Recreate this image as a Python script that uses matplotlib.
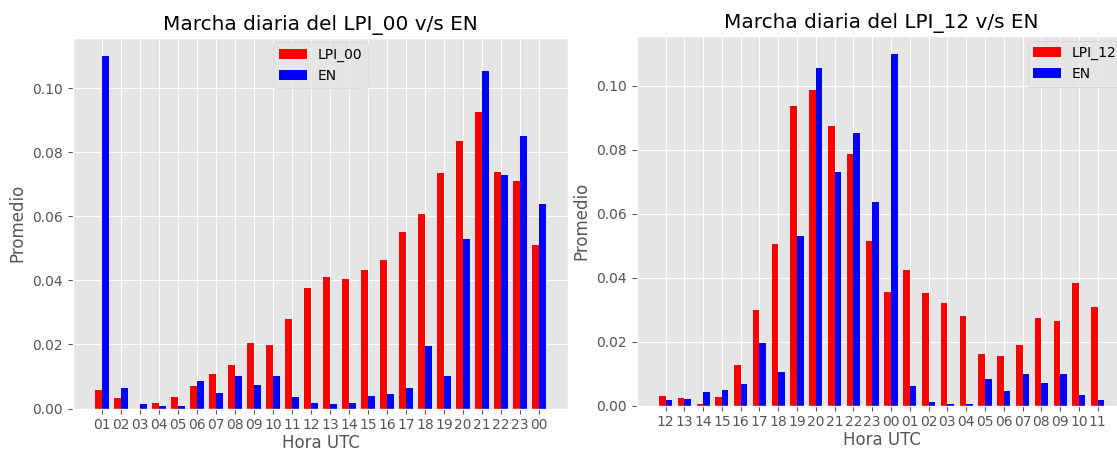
import matplotlib
matplotlib.use("Agg")
import matplotlib.pyplot as plt
import numpy as np

plt.style.use("ggplot")

# Left chart data
horas_00 = ["01", "02", "03", "04", "05", "06", "07", "08", "09", "10", "11", "12",
            "13", "14", "15", "16", "17", "18", "19", "20", "21", "22", "23", "00"]
lpi_00 = [0.0058, 0.0032, 0.0000, 0.0017, 0.0036, 0.0071, 0.0109, 0.0136, 0.0205, 0.0197,
          0.0279, 0.0377, 0.0411, 0.0405, 0.0433, 0.0465, 0.0550, 0.0609, 0.0734, 0.0836,
          0.0925, 0.0740, 0.0711, 0.0511]
en_00 = [0.1102, 0.0064, 0.0015, 0.0007, 0.0007, 0.0086, 0.0049, 0.0101, 0.0074, 0.0101,
         0.0036, 0.0017, 0.0014, 0.0018, 0.0040, 0.0046, 0.0064, 0.0194, 0.0102, 0.0528,
         0.1055, 0.0730, 0.0852, 0.0638]

# Right chart data
horas_12 = ["12", "13", "14", "15", "16", "17", "18", "19", "20", "21", "22", "23",
            "00", "01", "02", "03", "04", "05", "06", "07", "08", "09", "10", "11"]
lpi_12 = [0.0030, 0.0023, 0.0005, 0.0026, 0.0127, 0.0298, 0.0504, 0.0938, 0.0988, 0.0873,
          0.0786, 0.0515, 0.0355, 0.0425, 0.0352, 0.0321, 0.0281, 0.0163, 0.0155, 0.0191,
          0.0275, 0.0265, 0.0383, 0.0308]
en_12 = [0.0018, 0.0020, 0.0042, 0.0048, 0.0067, 0.0195, 0.0104, 0.0529, 0.1056, 0.0731,
         0.0852, 0.0636, 0.1099, 0.0061, 0.0011, 0.0005, 0.0005, 0.0083, 0.0046, 0.0099,
         0.0071, 0.0099, 0.0033, 0.0018]

W, H = 1117, 450
fig = plt.figure(figsize=(W / 100, H / 100), dpi=100)

def px_axes(x0, x1, ytop, ybot):
    return fig.add_axes([x0 / W, (H - ybot) / H, (x1 - x0) / W, (ybot - ytop) / H])

ax1 = px_axes(72.8, 568.2, 38.0, 408.5)
ax2 = px_axes(636.7, 1126.5, 36.4, 405.7)

width = 0.35

def draw(ax, horas, lpi, en, lpi_label, title, loc):
    x = np.arange(len(horas))
    ax.bar(x - width / 2, lpi, width, color="red", label=lpi_label)
    ax.bar(x + width / 2, en, width, color="blue", label="EN")
    ax.set_xticks(x)
    ax.set_xticklabels(horas)
    ax.set_xlabel("Hora UTC", labelpad=1)
    ax.set_ylabel("Promedio")
    ax.set_title(title)
    ax.legend(loc=loc, borderaxespad=0.3)

draw(ax1, horas_00, lpi_00, en_00, "LPI_00", "Marcha diaria del LPI_00 v/s EN", "upper center")
draw(ax2, horas_12, lpi_12, en_12, "LPI_12", "Marcha diaria del LPI_12 v/s EN", "upper right")

fig.savefig("out.png", dpi=100)
